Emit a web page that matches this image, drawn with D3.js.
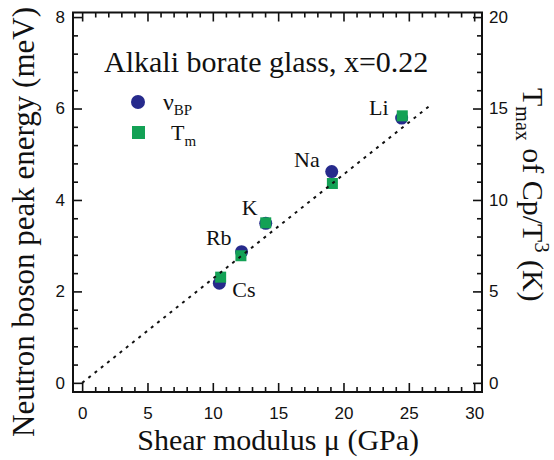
<!DOCTYPE html>
<html>
<head>
<meta charset="utf-8">
<script src="https://cdn.jsdelivr.net/npm/d3@7"></script>
<style>
  body { margin: 0; background: #fff; }
</style>
</head>
<body>
<div id="chart"></div>
<script>
// values
const glasses = ["Cs", "Rb", "K", "Na", "Li"];
const shearModulus = [10.5, 12.2, 14.05, 19.1, 24.45];   // GPa
const bosonPeak = [2.18, 2.87, 3.49, 4.62, 5.79];         // meV
const tmax = [5.78, 6.95, 8.75, 10.9, 14.6];              // K (right axis)
const tmaxShear = [10.6, 12.15, 14.05, 19.15, 24.5];
const fitX = [0, 26.6];
const fitY = [0, 6.06];
const xTicks = [0, 5, 10, 15, 20, 25, 30];
const yTicks = [0, 2, 4, 6, 8];
const yRTicks = [0, 5, 10, 15, 20];

let width = 554,
    height = 460,
    margin = ({ top: 12.5, right: 72, bottom: 68, left: 73 });

const serif = "'Liberation Serif', 'Times New Roman', Times, 'DejaVu Serif', serif";
const sans = "'Liberation Sans', Arial, Helvetica, sans-serif";

const svg = d3.select("#chart")
  .append("svg")
  .attr("width", width)
  .attr("height", height);

let x = d3.scaleLinear()
  .domain([-0.7, 30.6])
  .range([margin.left, width - margin.right]);

let y = d3.scaleLinear()
  .domain([-0.2, 8.1])
  .range([height - margin.bottom, margin.top]);

// right axis is y * 2.5 (meV -> K)
let yR = d3.scaleLinear()
  .domain([-0.2 * 2.5, 8.1 * 2.5])
  .range(y.range());

const blue = "#262a8c",
      green = "#13a155";

const major = 9, minor = 5;
const xMinor = d3.range(0, 31, 1).filter(v => v % 5 != 0);
const yMinor = d3.range(0, 20.5, 1).filter(v => v % 5 != 0).map(v => v / 2.5);

function addAxis(axis, transform) {
  let g = svg.append("g")
    .attr("transform", transform)
    .call(axis);
  g.select(".domain").remove();
  g.selectAll(".tick line").attr("stroke", "#111").attr("stroke-width", 1.6);
  g.selectAll(".tick text")
    .attr("fill", "#111")
    .style("font-family", sans)
    .style("font-size", "17px");
  return g;
}

// bottom
addAxis(d3.axisBottom(x).tickValues(xTicks).tickSize(-major).tickPadding(15),
  `translate(0,${y.range()[0]})`);
addAxis(d3.axisBottom(x).tickValues(xMinor).tickSize(-minor).tickFormat(""),
  `translate(0,${y.range()[0]})`);
// top
addAxis(d3.axisTop(x).tickValues(xTicks).tickSize(-major).tickFormat(""),
  `translate(0,${y.range()[1]})`);
addAxis(d3.axisTop(x).tickValues(xMinor).tickSize(-minor).tickFormat(""),
  `translate(0,${y.range()[1]})`);
// left
addAxis(d3.axisLeft(y).tickValues(yTicks).tickSize(-major).tickPadding(8),
  `translate(${margin.left},0)`);
addAxis(d3.axisLeft(y).tickValues(yMinor).tickSize(-minor).tickFormat(""),
  `translate(${margin.left},0)`);
// right
addAxis(d3.axisRight(yR).tickValues(yRTicks).tickSize(-major).tickPadding(7),
  `translate(${width - margin.right},0)`);
addAxis(d3.axisRight(y).tickValues(yMinor).tickSize(-minor).tickFormat(""),
  `translate(${width - margin.right},0)`);

// frame
svg.append("rect")
  .attr("x", margin.left)
  .attr("y", margin.top)
  .attr("width", width - margin.left - margin.right)
  .attr("height", y.range()[0] - margin.top)
  .attr("fill", "none")
  .attr("stroke", "#111")
  .attr("stroke-width", 2);

// points
const circles = glasses.map((g, i) => ({ name: g, x: shearModulus[i], y: bosonPeak[i] }));
const squares = glasses.map((g, i) => ({ name: g, x: tmaxShear[i], y: tmax[i] }));

svg.append("g")
  .selectAll("circle")
  .data(circles)
  .join("circle")
  .attr("cx", d => x(d.x))
  .attr("cy", d => y(d.y))
  .attr("r", 6.5)
  .attr("fill", blue);

const sq = 11;
svg.append("g")
  .selectAll("rect")
  .data(squares)
  .join("rect")
  .attr("x", d => x(d.x) - sq / 2)
  .attr("y", d => yR(d.y) - sq / 2)
  .attr("width", sq)
  .attr("height", sq)
  .attr("fill", green);

// dotted fit line through origin
svg.append("path")
  .datum(fitX.map((v, i) => [v, fitY[i]]))
  .attr("d", d3.line().x(d => x(d[0])).y(d => y(d[1])))
  .attr("fill", "none")
  .attr("stroke", "#111")
  .attr("stroke-width", 2)
  .attr("stroke-dasharray", "3 5");

function serifText(size) {
  return svg.append("text")
    .attr("fill", "#111")
    .style("font-family", serif)
    .style("font-size", size + "px");
}

// labels next to points
const labelPos = {
  Li: { dx: -13, dy: -3, anchor: "end" },
  Na: { dx: -12, dy: -5, anchor: "end" },
  K:  { dx: -8,  dy: -8, anchor: "end" },
  Rb: { dx: -10, dy: -7, anchor: "end" },
  Cs: { dx: 13,  dy: 14, anchor: "start" }
};
for (let d of circles) {
  serifText(22)
    .attr("x", x(d.x) + labelPos[d.name].dx)
    .attr("y", y(d.y) + labelPos[d.name].dy)
    .attr("text-anchor", labelPos[d.name].anchor)
    .text(d.name);
}

// title
serifText(30)
  .attr("x", 104)
  .attr("y", 72)
  .text("Alkali borate glass, x=0.22");

// legend
svg.append("circle")
  .attr("cx", 138).attr("cy", 102).attr("r", 7)
  .attr("fill", blue);
svg.append("rect")
  .attr("x", 132).attr("y", 126).attr("width", 13).attr("height", 13)
  .attr("fill", green);

let l1 = serifText(24).attr("x", 163).attr("y", 110);
l1.append("tspan").text("ν");
l1.append("tspan").attr("dy", 5).style("font-size", "15px").text("BP");

let l2 = serifText(22).attr("x", 171).attr("y", 140);
l2.append("tspan").text("T");
l2.append("tspan").attr("dy", 6).style("font-size", "15px").text("m");

// axis titles
serifText(30)
  .attr("text-anchor", "middle")
  .attr("x", (x(0) + x(30)) / 2)
  .attr("y", 450)
  .text("Shear modulus μ (GPa)");

serifText(31)
  .attr("text-anchor", "middle")
  .attr("transform", `translate(34,${(y(0) + y(8)) / 2 + 22}) rotate(-90)`)
  .text("Neutron boson peak energy (meV)");

let rl = serifText(30)
  .attr("transform", `translate(523,88) rotate(90)`);
rl.append("tspan").text("T");
rl.append("tspan").attr("dy", 7).style("font-size", "20px").text("max");
rl.append("tspan").attr("dy", -7).text(" of Cp/T");
rl.append("tspan").attr("dy", -12).style("font-size", "20px").text("3");
rl.append("tspan").attr("dy", 12).text(" (K)");
</script>
</body>
</html>
